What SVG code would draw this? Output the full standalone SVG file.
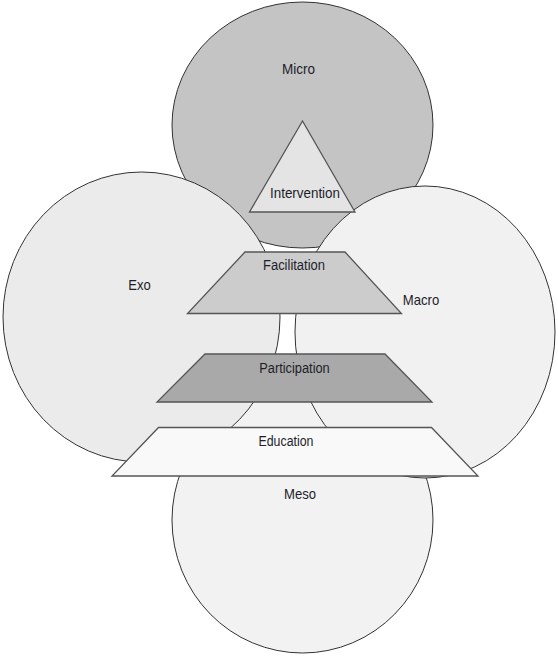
<svg xmlns="http://www.w3.org/2000/svg" width="558" height="657" viewBox="0 0 558 657">
<style>
.circ{stroke:#333;stroke-width:1}
.shape{stroke:#555;stroke-width:1.3;stroke-linejoin:miter}
.lbl{font-family:"Liberation Sans",Arial,sans-serif;font-size:14.5px;fill:#1e1e2a;text-anchor:middle}
.sm{font-size:14px}
</style>
<rect width="558" height="657" fill="#ffffff"/>
<g id="micro">
<ellipse class="circ" cx="302.5" cy="125" rx="130.5" ry="123" fill="#c4c4c4"/>
<text class="lbl" x="298.5" y="74" textLength="33" lengthAdjust="spacingAndGlyphs">Micro</text>
</g>
<g id="meso">
<ellipse class="circ" cx="302.5" cy="520" rx="130.5" ry="133" fill="#f2f2f2"/>
<text class="lbl" x="300" y="499" textLength="32" lengthAdjust="spacingAndGlyphs">Meso</text>
</g>
<g id="exo">
<ellipse class="circ" cx="141.5" cy="317" rx="138.5" ry="145" fill="#ebebeb"/>
<text class="lbl" x="139.5" y="290" textLength="22.5" lengthAdjust="spacingAndGlyphs">Exo</text>
</g>
<g id="macro">
<ellipse class="circ" cx="425" cy="332" rx="130" ry="146" fill="#f1f1f1"/>
<text class="lbl" x="421" y="305" textLength="36.5" lengthAdjust="spacingAndGlyphs">Macro</text>
</g>
<g id="intervention">
<polygon class="shape" points="302.5,121 249.5,212 355,212" fill="#e4e4e4"/>
<text class="lbl sm" x="305" y="198" textLength="70" lengthAdjust="spacingAndGlyphs">Intervention</text>
</g>
<g id="facilitation">
<polygon class="shape" points="245,252 345,252 401.5,313.5 187.5,313.5" fill="#cccccc"/>
<text class="lbl sm" x="294" y="270" textLength="62" lengthAdjust="spacingAndGlyphs">Facilitation</text>
</g>
<g id="participation">
<polygon class="shape" points="205,354 385,354 432,402 157,402" fill="#a9a9a9"/>
<text class="lbl sm" x="294.5" y="372.5" textLength="70.5" lengthAdjust="spacingAndGlyphs">Participation</text>
</g>
<g id="education">
<polygon class="shape" points="158.5,427.5 431.5,427.5 478,476 112,476" fill="#f9f9f9"/>
<text class="lbl sm" x="286" y="446" textLength="55" lengthAdjust="spacingAndGlyphs">Education</text>
</g>
<g id="connectors"/>
</svg>
